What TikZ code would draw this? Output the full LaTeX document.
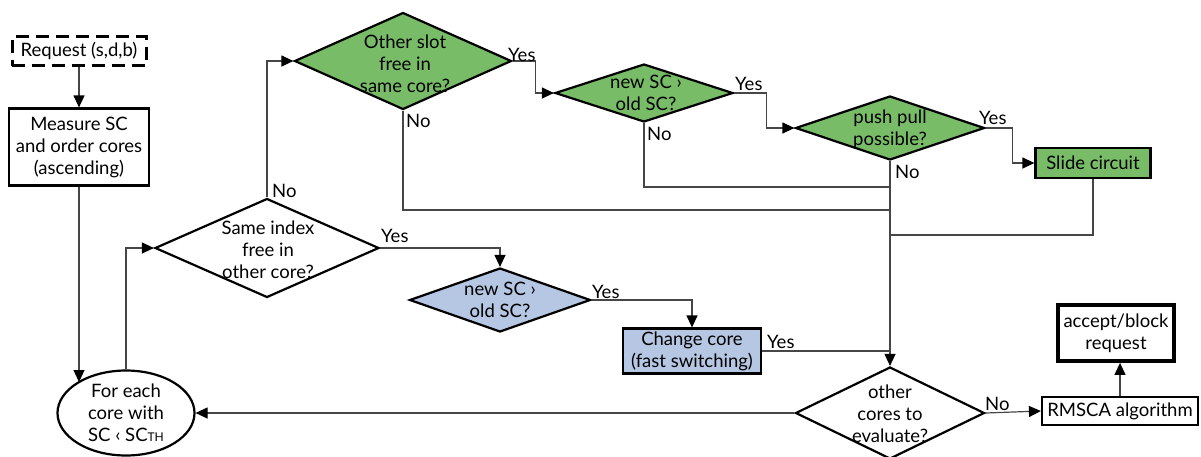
\documentclass[tikz,border=0pt]{standalone}
\usepackage{fontspec}
\setmainfont{Lato}
\usetikzlibrary{shapes.geometric,arrows.meta}
\definecolor{leaf}{RGB}{120,188,104}
\definecolor{sky}{RGB}{181,199,226}
\definecolor{wire}{RGB}{70,70,70}
\tikzset{
  txt/.style={font=\fontsize{18.5}{22}\selectfont, align=center, inner sep=0pt},
  lbl/.style={font=\fontsize{18.5}{22}\selectfont, anchor=west, inner sep=0pt},
  box/.style={draw=black, line width=2.2pt, minimum width=#1, inner sep=0pt},
  dia/.style={diamond, draw=black, line width=2.2pt, inner sep=0pt, shape aspect=2},
  conn/.style={draw=wire, line width=1.2pt},
  arr/.style={conn, -{Triangle[length=12pt,width=11pt,color=black]}},
}
\begin{document}
\begin{tikzpicture}[x=1pt,y=-1pt]
\useasboundingbox (0,0) rectangle (1201,456);

% start and set-up
\node[box=134, dash pattern=on 13pt off 7pt, line width=3pt, minimum height=29, txt] (req) at (79,51) {Request (s,d,b)};
\node[box=140, minimum height=77, txt] (meas) at (79,147) {Measure SC\\and order cores\\(ascending)};
\node[ellipse, draw=black, line width=2.2pt, minimum width=137, minimum height=85, inner sep=0pt] (loop) at (126,413) {};
\node[txt] at (loop) {For each\\core with\\SC \char"2039{} SC{\fontsize{12}{12}\selectfont TH}};

% decisions
\node[dia, minimum width=224, minimum height=99] (same) at (267,248) {};
\node[txt] at (268,250) {Same index\\free in\\other core?};
\node[dia, fill=leaf, minimum width=217, minimum height=97] (slot) at (403,61) {};
\node[txt] at (405,64) {Other slot\\free in\\same core?};
\node[dia, fill=leaf, minimum width=178, minimum height=58] (gsc) at (644,93) {};
\node[txt] at (646,93) {new SC \char"203A\\old SC?};
\node[dia, fill=leaf, minimum width=189, minimum height=64] (push) at (890,128) {};
\node[txt] at (890,129) {push pull\\possible?};
\node[dia, fill=sky, minimum width=181, minimum height=64] (bsc) at (500,300) {};
\node[txt] at (500,300) {new SC \char"203A\\old SC?};
\node[dia, minimum width=189, minimum height=92] (more) at (890,413) {};
\node[txt] at (890,414) {other\\cores to\\evaluate?};

% actions
\node[box=115, fill=leaf, minimum height=30, txt] (slide) at (1093,163) {Slide circuit};
\node[box=138, fill=sky, minimum height=45, txt] (chg) at (692,351) {Change core\\(fast switching)};
\node[box=156, minimum height=28, txt] (rmsca) at (1120,411) {RMSCA algorithm};
\node[box=116, line width=3.8pt, minimum height=56, txt] (done) at (1116,333) {accept/block\\request};

% junction points on the collecting line
\coordinate (jslot) at (890,210);
\coordinate (jgsc) at (890,187);
\coordinate (jslide) at (890,235);

% connectors
\draw[arr] (req) -- (meas);
\draw[arr] (meas.south) -- (meas.south |- 0,382);
\draw[arr] (loop.north) |- (same.west);
\draw[arr] (same.north) |- (slot.west);
\draw[arr] (slot.east) -- ++(23,0) |- (gsc.west);
\draw[arr] (gsc.east) -- ++(32,0) |- (push.west);
\draw[arr] (push.east) -- ++(27,0) |- (slide.west);
\draw[conn] (slot.south) |- (jslot);
\draw[conn] (gsc.south) |- (jgsc);
\draw[conn] (slide.south) |- (jslide);
\draw[arr] (push.south) -- (more.north);
\draw[arr] (same.east) -| (bsc.north);
\draw[arr] (bsc.east) -| (chg.north);
\draw[conn] (chg.east) -- (chg.east -| more.north);
\draw[arr] (more.west) -- (loop.east);
\draw[arr] (more.east) -- (rmsca.west);
\draw[arr] (rmsca.north) -- (rmsca.north |- done.south);

% branch labels
\node[lbl] at (272,191) {No};
\node[lbl] at (406,121) {No};
\node[lbl] at (647,134) {No};
\node[lbl] at (895,172) {No};
\node[lbl] at (508,55) {Yes};
\node[lbl] at (735,84) {Yes};
\node[lbl] at (979,118) {Yes};
\node[lbl] at (381,236) {Yes};
\node[lbl] at (592,292) {Yes};
\node[lbl] at (767,342) {Yes};
\node[lbl] at (985,404) {No};
\end{tikzpicture}
\end{document}
